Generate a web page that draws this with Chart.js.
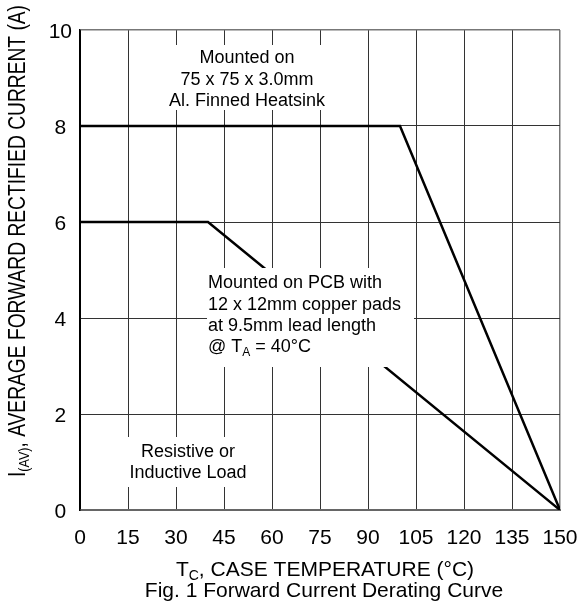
<!DOCTYPE html>
<html>
<head>
<meta charset="utf-8">
<script src="https://cdn.jsdelivr.net/npm/chart.js@4.4.0/dist/chart.umd.min.js"></script>
<style>
  body { margin: 0; background: #fff; }
  canvas { display: block; }
</style>
</head>
<body>
<canvas id="chartDerating" width="579" height="608"></canvas>
<script>
// case temperature (°C) vs average forward current (A)
const heatsinkTemp = [0, 100, 150];
const heatsinkCurrent = [8, 8, 0];
const pcbTemp = [0, 40, 150];
const pcbCurrent = [6, 6, 0];
const xTicks = [0, 15, 30, 45, 60, 75, 90, 105, 120, 135, 150];
const yTicks = [0, 2, 4, 6, 8, 10];

const FONT = '"Liberation Sans", Arial, Helvetica, sans-serif';

const toPoints = (xs, ys) => xs.map((x, i) => ({ x: x, y: ys[i] }));

// draw text made of runs, some of them subscripts
function drawRuns(ctx, runs, x, y, opt) {
  let total = 0;
  runs.forEach(r => {
    ctx.font = (r.sub ? opt.sub : opt.size) + 'px ' + FONT;
    r.w = ctx.measureText(r.t).width;
    total += r.w;
  });
  const sx = opt.fit ? opt.fit / total : 1;
  const start = opt.align === 'center' ? x - total * sx / 2 : x;
  ctx.save();
  ctx.translate(start, y);
  ctx.scale(sx, 1);
  ctx.textAlign = 'left';
  ctx.textBaseline = 'alphabetic';
  let cx = 0;
  runs.forEach(r => {
    ctx.font = (r.sub ? opt.sub : opt.size) + 'px ' + FONT;
    ctx.fillText(r.t, cx, r.sub ? opt.drop : 0);
    cx += r.w;
  });
  ctx.restore();
}

const notesPlugin = {
  id: 'notes',
  afterDatasetsDraw(chart) {
    const ctx = chart.ctx;
    ctx.save();
    // white label boxes hide the grid and the curve behind them
    ctx.fillStyle = '#fff';
    ctx.fillRect(165, 45, 170, 65);
    ctx.fillRect(207, 268, 207, 99);
    ctx.fillRect(120, 437, 136, 50);

    ctx.fillStyle = '#000';
    const c = { size: 18, sub: 12, drop: 4, align: 'center' };
    drawRuns(ctx, [{ t: 'Mounted on' }], 247, 63, c);
    drawRuns(ctx, [{ t: '75 x 75 x 3.0mm' }], 247, 85, c);
    drawRuns(ctx, [{ t: 'Al. Finned Heatsink' }], 247, 106, c);

    const l = { size: 18, sub: 12, drop: 4, align: 'left' };
    drawRuns(ctx, [{ t: 'Mounted on PCB with' }], 208, 288, l);
    drawRuns(ctx, [{ t: '12 x 12mm copper pads' }], 208, 309.5, l);
    drawRuns(ctx, [{ t: 'at 9.5mm lead length' }], 208, 331, l);
    drawRuns(ctx, [{ t: '@ T' }, { t: 'A', sub: true }, { t: ' = 40°C' }], 208, 352, l);

    drawRuns(ctx, [{ t: 'Resistive or' }], 188, 457, c);
    drawRuns(ctx, [{ t: 'Inductive Load' }], 188, 478, c);

    // axis titles and caption
    drawRuns(ctx, [{ t: 'T' }, { t: 'C', sub: true }, { t: ', CASE TEMPERATURE (°C)' }],
      325, 576, { size: 21, sub: 14, drop: 4, align: 'center' });
    drawRuns(ctx, [{ t: 'Fig. 1 Forward Current Derating Curve' }],
      324, 597, { size: 21, sub: 14, drop: 4, align: 'center' });

    ctx.save();
    ctx.translate(25, 241);
    ctx.rotate(-Math.PI / 2);
    drawRuns(ctx, [{ t: 'I' }, { t: '(AV)', sub: true }, { t: ', AVERAGE FORWARD RECTIFIED CURRENT (A)' }],
      0, 0, { size: 23, sub: 15, drop: 4, align: 'center', fit: 472 });
    ctx.restore();
    ctx.restore();
  }
};

const ctx1 = document.getElementById('chartDerating').getContext('2d');
const deratingChart = new Chart(ctx1, {
  type: 'scatter',
  data: {
    datasets: [
      {
        label: 'Heatsink',
        data: toPoints(heatsinkTemp, heatsinkCurrent),
        showLine: true,
        borderColor: '#000',
        borderWidth: 2.5,
        pointRadius: 0,
        tension: 0
      },
      {
        label: 'PCB',
        data: toPoints(pcbTemp, pcbCurrent),
        showLine: true,
        borderColor: '#000',
        borderWidth: 2.5,
        pointRadius: 0,
        tension: 0
      }
    ]
  },
  options: {
    responsive: false,
    animation: false,
    layout: { padding: { left: 0, top: 30, right: 19, bottom: 0 } },
    plugins: {
      legend: { display: false },
      tooltip: { enabled: false }
    },
    scales: {
      x: {
        type: 'linear',
        min: 0,
        max: 150,
        afterBuildTicks: s => { s.ticks = xTicks.map(v => ({ value: v })); },
        afterFit: s => { s.height = 98; s.paddingLeft = 0; s.paddingRight = 0; },
        grid: {
          drawTicks: false,
          color: c => c.tick && c.tick.value === 150 ? '#777' : (c.tick && c.tick.value === 0 ? '#000' : '#333'),
          lineWidth: c => c.tick && c.tick.value === 150 ? 1.5 : 1
        },
        border: { color: '#666', width: 2 },
        ticks: {
          padding: 16,
          maxRotation: 0,
          color: '#000',
          font: { family: FONT, size: 21 }
        }
      },
      y: {
        type: 'linear',
        min: 0,
        max: 10,
        afterBuildTicks: s => { s.ticks = yTicks.map(v => ({ value: v })); },
        afterFit: s => { s.width = 80; s.paddingTop = 0; s.paddingBottom = 0; },
        grid: {
          drawTicks: false,
          color: c => c.tick && c.tick.value === 10 ? '#777' : (c.tick && c.tick.value === 0 ? '#666' : '#333'),
          lineWidth: c => c.tick && c.tick.value === 10 ? 1.5 : 1
        },
        border: { color: '#000', width: 1.5 },
        ticks: {
          padding: 8,
          crossAlign: 'center',
          labelOffset: 2,
          color: '#000',
          font: { family: FONT, size: 21 }
        }
      }
    }
  },
  plugins: [notesPlugin]
});
</script>
</body>
</html>
